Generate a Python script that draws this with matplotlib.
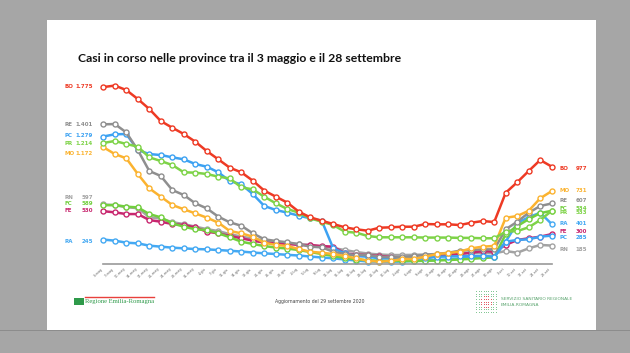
import numpy as np
import matplotlib
matplotlib.use('Agg')
import matplotlib.pyplot as plt
from matplotlib.patches import Rectangle

dates = ['3-mag', '7-mag', '10-mag', '14-mag', '17-mag', '21-mag', '24-mag', '28-mag', '31-mag',
         '4-giu', '7-giu', '11-giu', '14-giu', '18-giu', '21-giu', '25-giu', '28-giu',
         '2-lug', '5-lug', '9-lug', '12-lug', '16-lug', '19-lug', '23-lug', '26-lug', '30-lug',
         '2-ago', '6-ago', '9-ago', '13-ago', '16-ago', '20-ago', '23-ago', '27-ago', '30-ago',
         '3-set', '10-set', '17-set', '24-set', '28-set']

bo = [1775, 1790, 1745, 1655, 1555, 1434, 1367, 1304, 1227, 1133, 1050, 966, 920, 836, 736, 676, 616, 525,
      468, 434, 401, 368, 348, 334, 364, 368, 374, 374, 401, 398, 398, 391, 414, 431, 421, 715, 820, 933, 1043, 977]
re = [1401, 1404, 1320, 1143, 933, 883, 742, 692, 609, 558, 475, 418, 384, 308, 248, 231, 218, 198,
      174, 167, 123, 100, 90, 90, 73, 67, 67, 80, 90, 100, 113, 133, 140, 147, 147, 348, 424, 514, 582, 607]
pc = [1279, 1301, 1304, 1143, 1103, 1093, 1070, 1050, 1003, 976, 920, 832, 799, 702, 582, 542, 515, 485,
      458, 434, 157, 107, 80, 73, 57, 57, 57, 57, 57, 73, 75, 78, 80, 80, 75, 224, 241, 248, 274, 285]
pr = [1214, 1234, 1204, 1177, 1070, 1033, 993, 920, 916, 903, 876, 859, 769, 749, 675, 609, 552, 515,
      458, 424, 391, 324, 314, 281, 268, 268, 268, 268, 265, 265, 265, 262, 262, 258, 258, 324, 330, 368, 441, 533]
mo = [1172, 1103, 1060, 903, 759, 675, 592, 549, 508, 465, 415, 331, 308, 274, 214, 191, 181, 150,
      123, 113, 100, 80, 57, 33, 23, 30, 50, 50, 73, 100, 110, 125, 157, 174, 181, 464, 481, 534, 659, 731]
rn = [597, 590, 570, 560, 470, 455, 420, 400, 375, 350, 330, 300, 275, 255, 235, 220, 210, 200,
      190, 175, 160, 140, 120, 105, 95, 90, 90, 92, 95, 100, 105, 108, 110, 110, 107, 130, 113, 157, 191, 185]
fc = [589, 592, 575, 568, 501, 468, 408, 374, 348, 341, 308, 268, 224, 201, 180, 165, 155, 140,
      120, 100, 80, 60, 45, 38, 33, 32, 30, 30, 32, 35, 40, 45, 52, 60, 67, 300, 380, 450, 510, 534]
fe = [530, 518, 501, 501, 441, 424, 401, 391, 368, 324, 308, 281, 258, 234, 214, 208, 201, 191,
      190, 180, 174, 107, 95, 90, 80, 70, 57, 57, 65, 75, 90, 100, 113, 130, 123, 191, 241, 258, 274, 300]
ra = [245, 234, 214, 207, 184, 174, 164, 157, 150, 147, 140, 133, 125, 115, 107, 100, 92, 85,
      75, 65, 57, 45, 35, 25, 23, 23, 25, 30, 35, 40, 45, 55, 65, 74, 67, 224, 410, 470, 514, 401]

province = ['RN', 'FE', 'RA', 'FC', 'PC', 'RE', 'MO', 'PR', 'BO']
series = [rn, fe, ra, fc, pc, re, mo, pr, bo]
colors = {'BO': '#ee3a24', 'RE': '#8f8f8f', 'PC': '#3da2f2', 'PR': '#7ed348',
          'MO': '#fbb330', 'RN': '#a3a3a3', 'FC': '#72cf3e', 'FE': '#c8276f', 'RA': '#44a9f3'}
first_lbl = {'BO': '1.775', 'RE': '1.401', 'PC': '1.279', 'PR': '1.214', 'MO': '1.172',
             'RN': '597', 'FC': '589', 'FE': '530', 'RA': '245'}
last_lbl = {'BO': '977', 'MO': '731', 'RE': '607', 'FC': '534', 'PR': '533',
            'RA': '401', 'FE': '300', 'PC': '285', 'RN': '185'}
# label heights (data units) spread apart where lines overlap
first_y = {'BO': 1780, 'RE': 1404, 'PC': 1292, 'PR': 1211, 'MO': 1113,
           'RN': 671, 'FC': 602, 'FE': 532, 'RA': 225}
last_y = {'BO': 958, 'MO': 735, 'RE': 635, 'FC': 559, 'PR': 515,
          'RA': 402, 'FE': 324, 'PC': 268, 'RN': 148}

fig = plt.figure(figsize=(6.3, 3.53), dpi=100)
fig.patch.set_facecolor('#a6a6a6')
fig.patches.append(Rectangle((47/630, 1-330/353), 549/630, 310/353, transform=fig.transFigure,
                             facecolor='white', edgecolor='none', zorder=-2))
fig.patches.append(Rectangle((0, 1-331/353), 1, 1.5/353, transform=fig.transFigure,
                             facecolor='#8c8c8c', edgecolor='none', zorder=-2))

ax = fig.add_axes([103.3/630, 89/353, 448.4/630, 189.4/353])
ax.set_facecolor('none')
x = np.arange(len(dates))
for name, vals in zip(province, series):
    ax.plot(x, vals, '-o', color=colors[name], lw=1.8, ms=3.6, mfc='white',
            mec=colors[name], mew=1.0, clip_on=False)
    ax.text(-3.4, first_y[name], name, color=colors[name], fontsize=4, fontweight='bold',
            ha='left', va='center', clip_on=False)
    ax.text(-0.9, first_y[name], first_lbl[name], color=colors[name], fontsize=4,
            fontweight='bold', ha='right', va='center', clip_on=False)
    ax.text(39.7, last_y[name], name, color=colors[name], fontsize=4, fontweight='bold',
            ha='left', va='center', clip_on=False)
    ax.text(42.1, last_y[name], last_lbl[name], color=colors[name], fontsize=4,
            fontweight='bold', ha='right', va='center', clip_on=False)

ax.set_xlim(0, len(dates) - 1)
ax.set_ylim(0, 1900)
ax.set_xticks(x)
ax.set_xticklabels(dates, rotation=45, ha='right', fontsize=2.5, color='#666666')
ax.tick_params(axis='x', length=0, pad=2)
ax.set_yticks([])
for s in ['top', 'left', 'right']:
    ax.spines[s].set_visible(False)
ax.spines['bottom'].set_color('#9a9a9a')
ax.spines['bottom'].set_linewidth(1.2)

fig.text(78/630, 1-58/353, 'Casi in corso nelle province tra il 3 maggio e il 28 settembre',
         fontsize=8.8, fontweight='bold', family='Lato', color='#111111', va='center', ha='left')

# footer
fig.text(320/630, 1-301/353, 'Aggiornamento del 29 settembre 2020', fontsize=3.3,
         color='#444444', ha='center', va='center')
fig.add_artist(plt.Line2D([85/630, 154/630], [1-296.5/353]*2, color='#e8413c', lw=1.0))
fig.patches.append(Rectangle((74/630, 1-305/353), 10/630, 7/353, transform=fig.transFigure,
                             facecolor='#2e9a4a', edgecolor='none'))
fig.text(85/630, 1-301.5/353, 'Regione Emilia-Romagna', fontsize=4.8, family='Liberation Serif',
         color='#2e9a4a', ha='left', va='center')

lg = fig.add_axes([475/630, 1-313/353, 22/630, 23/353])
gx, gy = np.meshgrid(np.arange(9), np.arange(9))
red = ((gx >= 3) & (gx <= 5) & (gy >= 2) & (gy <= 6)) | ((gy >= 3) & (gy <= 5) & (gx >= 2) & (gx <= 6))
lg.scatter(gx[~red], gy[~red], s=0.5, color='#7cc48e', lw=0)
lg.scatter(gx[red], gy[red], s=0.5, color='#e0505a', lw=0)
lg.set_xlim(-0.5, 8.5)
lg.set_ylim(-0.5, 8.5)
lg.axis('off')
fig.text(501/630, 1-299/353, 'SERVIZIO SANITARIO REGIONALE', fontsize=3.2, color='#5aa46e',
         ha='left', va='center')
fig.text(501/630, 1-305/353, 'EMILIA-ROMAGNA', fontsize=3.2, color='#5aa46e',
         ha='left', va='center')

fig.savefig('out.png', dpi=100, facecolor=fig.get_facecolor())
